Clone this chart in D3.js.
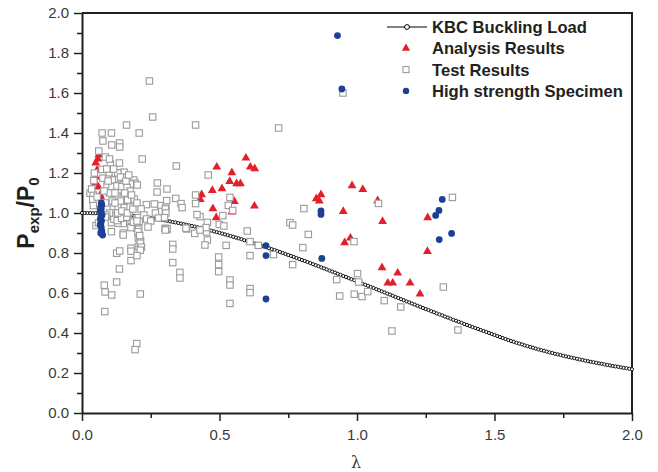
<!DOCTYPE html>
<html>
<head>
<meta charset="utf-8">
<script src="https://cdn.jsdelivr.net/npm/d3@7"></script>
<style>
  body { margin: 0; background: #fff; }
  svg { display: block; }
</style>
</head>
<body>
<script>
// KBC buckling curve, read every 0.01 of lambda from 0 to 2
var kbcLoad = [
  1.000,1.000,1.000,1.000,0.999,0.999,0.998,0.998,0.997,0.997,
  0.996,0.995,0.994,0.993,0.992,0.991,0.989,0.988,0.987,0.985,
  0.983,0.982,0.980,0.978,0.976,0.974,0.972,0.970,0.968,0.965,
  0.963,0.961,0.958,0.955,0.953,0.950,0.947,0.944,0.941,0.938,
  0.935,0.932,0.929,0.926,0.922,0.919,0.915,0.912,0.908,0.904,
  0.901,0.897,0.893,0.889,0.885,0.881,0.877,0.873,0.869,0.864,
  0.860,0.856,0.851,0.847,0.842,0.838,0.833,0.829,0.824,0.819,
  0.815,0.810,0.805,0.800,0.795,0.790,0.785,0.780,0.775,0.770,
  0.765,0.760,0.755,0.750,0.744,0.739,0.734,0.728,0.723,0.718,
  0.712,0.707,0.702,0.696,0.691,0.685,0.680,0.674,0.669,0.664,
  0.658,0.652,0.647,0.641,0.636,0.630,0.625,0.619,0.614,0.608,
  0.603,0.597,0.592,0.586,0.580,0.575,0.569,0.564,0.558,0.553,
  0.547,0.542,0.536,0.531,0.525,0.520,0.515,0.509,0.504,0.498,
  0.493,0.488,0.482,0.477,0.472,0.466,0.461,0.456,0.451,0.445,
  0.440,0.435,0.430,0.425,0.420,0.415,0.410,0.405,0.400,0.395,
  0.390,0.385,0.380,0.375,0.370,0.365,0.360,0.356,0.351,0.347,
  0.343,0.338,0.334,0.330,0.326,0.322,0.318,0.314,0.311,0.307,
  0.303,0.300,0.296,0.293,0.290,0.286,0.283,0.280,0.277,0.274,
  0.271,0.268,0.265,0.262,0.259,0.256,0.254,0.251,0.248,0.246,
  0.243,0.240,0.238,0.235,0.233,0.231,0.228,0.226,0.224,0.221,
  0.219
];

// Analysis Results (red triangles)
var analysisLambda = [0.061,0.058,0.050,0.055,0.050,0.048,0.060,0.066,0.068,
  0.596,0.490,0.545,0.612,0.628,0.537,0.562,0.576,0.474,0.509,0.435,0.430,0.554,0.627,0.476,0.488,0.545,
  0.869,0.852,0.863,0.982,1.021,0.950,1.075,1.093,0.976,0.955,1.091,1.148,1.112,1.130,1.257,1.256,1.193,1.229];
var analysisP = [1.29,1.27,1.25,1.215,1.18,1.15,1.13,1.09,1.08,
  1.275,1.23,1.202,1.23,1.222,1.158,1.147,1.147,1.113,1.122,1.092,1.068,1.058,1.035,1.022,0.977,1.005,
  1.092,1.072,1.06,1.137,1.118,1.008,1.062,0.958,0.875,0.852,0.727,0.70,0.65,0.65,0.977,0.808,0.65,0.595];

// Test Results (grey squares)
var testLambda = [0.245,0.257,0.162,0.208,0.073,0.107,0.076,0.108,0.137,0.137,0.061,0.219,0.343,0.085,0.103,0.136,
  0.274,0.309,0.413,0.715,0.459,0.273,0.413,0.413,0.538,0.532,0.548,0.234,0.263,0.287,0.305,0.308,0.341,0.360,0.364,
  0.949,1.347,1.078,0.989,1.002,0.926,1.006,0.937,0.990,1.018,1.039,1.099,1.159,1.314,1.367,1.127,
  0.512,0.429,0.456,0.499,0.516,0.453,0.456,0.447,0.524,0.601,0.611,0.497,0.497,0.497,0.538,0.538,0.611,0.611,0.538,
  0.696,0.807,0.756,0.766,0.823,0.803,0.766,0.641,0.611,
  0.288,0.298,0.267,0.278,0.418,0.451,0.410,0.429,0.302,0.309,0.330,0.330,0.330,0.356,0.356,0.381,
  0.168,0.172,0.163,0.141,0.150,0.150,0.205,0.208,0.199,0.205,0.205,0.213,0.205,0.178,0.178,0.178,0.126,0.137,0.136,
  0.126,0.081,0.084,0.108,0.212,0.083,0.199,0.193,0.107,0.107,0.120,0.212,0.216,0.212,0.200,0.196,0.206,0.131,0.179,
  0.178,0.303,0.305,0.300,0.309,0.303,0.378,
  0.073,0.099,0.121,0.145,0.153,0.076,0.097,0.115,0.133,0.152,0.188,0.194,0.176,0.043,0.091,0.109,0.127,0.145,0.164,
  0.029,0.041,0.201,0.175,0.128,0.150,0.166,0.114,0.131,0.154,0.175,0.039,0.041,0.051,0.150,0.204,0.210,
  0.116,0.128,0.144,0.163,0.187,
  0.090,0.100,0.110,0.085,0.120,0.095,0.130,0.100,0.115,0.140,0.160,0.170,0.155,0.140,0.120,0.100,0.090,0.130,
  0.145,0.165,0.185,0.190,0.180,0.200,0.215,0.225,0.235,0.250,0.240,0.200,0.035,0.045,0.055,0.080,0.085,0.060];
var testP = [1.66,1.48,1.44,1.40,1.40,1.40,1.36,1.34,1.35,1.33,1.31,1.27,1.235,1.28,1.245,1.25,
  1.15,1.12,1.44,1.425,1.19,1.105,1.09,1.047,1.078,1.038,1.013,1.042,1.045,1.037,1.03,1.062,1.073,1.047,1.027,
  1.60,1.078,1.048,0.857,0.697,0.667,0.655,0.585,0.594,0.582,0.607,0.562,0.53,0.63,0.415,0.41,
  0.987,0.982,0.953,0.943,0.935,0.905,0.865,0.84,0.838,0.91,0.787,0.78,0.742,0.707,0.665,0.64,0.622,0.602,0.548,
  0.792,1.022,0.952,0.94,0.893,0.827,0.742,0.838,0.857,
  1.008,0.977,1.0,0.975,0.992,0.927,0.898,0.915,0.923,0.918,0.843,0.82,0.752,0.703,0.675,0.92,
  1.032,1.005,0.982,0.974,0.947,0.90,0.977,0.957,0.924,0.899,0.874,0.86,0.832,0.824,0.809,0.762,0.799,0.81,0.72,
  0.655,0.639,0.605,0.59,0.595,0.507,0.347,0.317,0.907,0.952,0.985,0.849,0.829,0.814,0.787,0.942,0.919,0.949,0.962,
  0.927,1.02,1.0,0.977,0.922,0.915,0.924,
  1.218,1.199,1.199,1.202,1.204,1.174,1.169,1.165,1.172,1.179,1.165,1.149,1.145,1.162,1.135,1.132,1.135,1.132,1.128,
  1.099,1.09,1.14,1.11,1.084,1.082,1.065,1.032,1.032,1.027,1.03,1.067,1.037,0.937,0.89,0.907,0.887,
  0.969,0.962,0.974,0.979,0.954,
  1.22,1.10,1.06,1.05,1.10,1.16,1.20,1.27,1.22,1.18,1.16,1.19,1.10,1.06,1.05,1.00,0.99,1.00,
  1.01,1.00,1.02,1.07,1.09,1.05,1.02,0.99,0.97,0.96,0.93,0.96,1.12,1.20,1.08,1.11,0.98,0.95];

// High strength Specimen (blue dots)
var highLambda = [0.070,0.072,0.068,0.070,0.066,0.070,0.073,0.069,0.067,0.071,0.068,0.066,0.070,0.072,0.068,0.075,
  0.929,0.945,0.669,0.669,0.669,0.869,0.869,0.872,1.310,1.298,1.286,1.344,1.299];
var highP = [1.05,1.04,1.03,1.02,1.01,1.00,0.99,0.98,0.97,0.96,0.95,0.94,0.93,0.91,0.90,0.89,
  1.887,1.62,0.837,0.787,0.57,1.01,0.993,0.773,1.068,1.013,0.988,0.898,0.867];

var xTicks = [0, 0.5, 1.0, 1.5, 2.0];
var yTicks = [0, 0.2, 0.4, 0.6, 0.8, 1.0, 1.2, 1.4, 1.6, 1.8, 2.0];
var legendNames = ["KBC Buckling Load", "Analysis Results", "Test Results", "High strength Specimen"];

var w = 658;
var h = 472;
var plotLeft = 82, plotRight = 632, plotTop = 13, plotBottom = 413;
var axisColor = "#231f20";
var redColor = "#e3202a";
var blueColor = "#1d3f94";
var greyColor = "#9b9b9b";

var svg = d3.select("body")
    .append("svg")
    .attr("width", w)
    .attr("height", h);

svg.append("rect")
    .attr("width", w)
    .attr("height", h)
    .attr("fill", "#fff");

var x = d3.scaleLinear().domain([0, 2]).range([plotLeft, plotRight]);
var y = d3.scaleLinear().domain([0, 2]).range([plotBottom, plotTop]);

// minor ticks first, then major axes on top
svg.append("g")
    .attr("transform", "translate(0," + plotBottom + ")")
    .call(d3.axisBottom(x).tickValues([0.25, 0.75, 1.25, 1.75]).tickSize(5).tickFormat(""))
    .call(function(g){ g.select(".domain").remove(); })
    .selectAll("line").attr("stroke", axisColor).attr("stroke-width", 1.5);

svg.append("g")
    .attr("transform", "translate(" + plotLeft + ",0)")
    .call(d3.axisLeft(y).tickValues([0.1, 0.3, 0.5, 0.7, 0.9, 1.1, 1.3, 1.5, 1.7, 1.9]).tickSize(5).tickFormat(""))
    .call(function(g){ g.select(".domain").remove(); })
    .selectAll("line").attr("stroke", axisColor).attr("stroke-width", 1.5);

var xAxis = svg.append("g")
    .attr("transform", "translate(0," + plotBottom + ")")
    .call(d3.axisBottom(x).tickValues(xTicks).tickSize(8).tickSizeOuter(0).tickPadding(8).tickFormat(d3.format(".1f")));

var yAxis = svg.append("g")
    .attr("transform", "translate(" + plotLeft + ",0)")
    .call(d3.axisLeft(y).tickValues(yTicks).tickSize(8).tickSizeOuter(0).tickPadding(5).tickFormat(d3.format(".1f")));

[xAxis, yAxis].forEach(function(g){
    g.select(".domain").attr("stroke", axisColor).attr("stroke-width", 2);
    g.selectAll(".tick line").attr("stroke", axisColor).attr("stroke-width", 1.5);
    g.selectAll(".tick text")
        .attr("font-family", "Liberation Sans, Arial, sans-serif")
        .attr("font-size", "15px")
        .attr("fill", "#3a3a3a");
});

// frame on top and right
svg.append("path")
    .attr("d", "M" + plotLeft + "," + plotTop + "H" + plotRight + "V" + plotBottom)
    .attr("fill", "none")
    .attr("stroke", axisColor)
    .attr("stroke-width", 2);

// KBC curve
var kbc = kbcLoad.map(function(d, i){ return {l: i / 100, p: d}; });

svg.append("path")
    .datum(kbc)
    .attr("d", d3.line().x(function(d){ return x(d.l); }).y(function(d){ return y(d.p); }))
    .attr("fill", "none")
    .attr("stroke", "#000")
    .attr("stroke-width", 1);

svg.append("g").selectAll("circle")
    .data(kbc)
    .enter()
    .append("circle")
    .attr("cx", function(d){ return x(d.l); })
    .attr("cy", function(d){ return y(d.p); })
    .attr("r", 1.6)
    .attr("fill", "#fff")
    .attr("stroke", "#000")
    .attr("stroke-width", 0.9);

var tri = d3.symbol().type(d3.symbolTriangle).size(34);

svg.append("g").selectAll("path")
    .data(analysisLambda)
    .enter()
    .append("path")
    .attr("d", tri)
    .attr("transform", function(d, i){ return "translate(" + x(d) + "," + y(analysisP[i]) + ")"; })
    .attr("fill", redColor);

svg.append("g").selectAll("rect")
    .data(testLambda)
    .enter()
    .append("rect")
    .attr("x", function(d){ return x(d) - 3.2; })
    .attr("y", function(d, i){ return y(testP[i]) - 3.2; })
    .attr("width", 6.4)
    .attr("height", 6.4)
    .attr("fill", "#fff")
    .attr("stroke", greyColor)
    .attr("stroke-width", 1.1);

svg.append("g").selectAll("circle")
    .data(highLambda)
    .enter()
    .append("circle")
    .attr("cx", function(d){ return x(d); })
    .attr("cy", function(d, i){ return y(highP[i]); })
    .attr("r", 3.4)
    .attr("fill", blueColor);

// legend
var legend = svg.append("g").attr("transform", "translate(406,27)");
var rowGap = 21.3;

legend.append("line")
    .attr("x1", -19).attr("x2", 21).attr("y1", 0).attr("y2", 0)
    .attr("stroke", "#000").attr("stroke-width", 1);
legend.append("circle")
    .attr("cx", 1).attr("cy", 0).attr("r", 2.4)
    .attr("fill", "#fff").attr("stroke", "#000").attr("stroke-width", 1);
legend.append("path")
    .attr("d", d3.symbol().type(d3.symbolTriangle).size(30))
    .attr("transform", "translate(0," + rowGap + ")")
    .attr("fill", redColor);
legend.append("rect")
    .attr("x", -3).attr("y", rowGap * 2 - 3).attr("width", 6).attr("height", 6)
    .attr("fill", "#fff").attr("stroke", greyColor).attr("stroke-width", 1.1);
legend.append("circle")
    .attr("cx", 0).attr("cy", rowGap * 3).attr("r", 3.2)
    .attr("fill", blueColor);

legend.selectAll("text")
    .data(legendNames)
    .enter()
    .append("text")
    .text(function(d){ return d; })
    .attr("x", 26)
    .attr("y", function(d, i){ return i * rowGap + 6; })
    .attr("font-family", "Liberation Sans, Arial, sans-serif")
    .attr("font-weight", "bold")
    .attr("font-size", "16.6px")
    .attr("fill", "#231f20");

// axis titles
svg.append("text")
    .text("\u03bb")
    .attr("x", 356)
    .attr("y", 468)
    .attr("text-anchor", "middle")
    .attr("font-family", "DejaVu Serif, serif")
    .attr("font-size", "16px")
    .attr("fill", "#3a3a3a");

var yTitle = svg.append("text")
    .attr("transform", "translate(34,213) rotate(-90)")
    .attr("text-anchor", "middle")
    .attr("font-family", "Liberation Sans, Arial, sans-serif")
    .attr("font-weight", "bold")
    .attr("font-size", "23px")
    .attr("fill", "#231f20");
yTitle.append("tspan").text("P");
yTitle.append("tspan").text("exp").attr("font-size", "15px").attr("dy", 5);
yTitle.append("tspan").text("/P").attr("dy", -5);
yTitle.append("tspan").text("0").attr("font-size", "15px").attr("dy", 5);
</script>
</body>
</html>
